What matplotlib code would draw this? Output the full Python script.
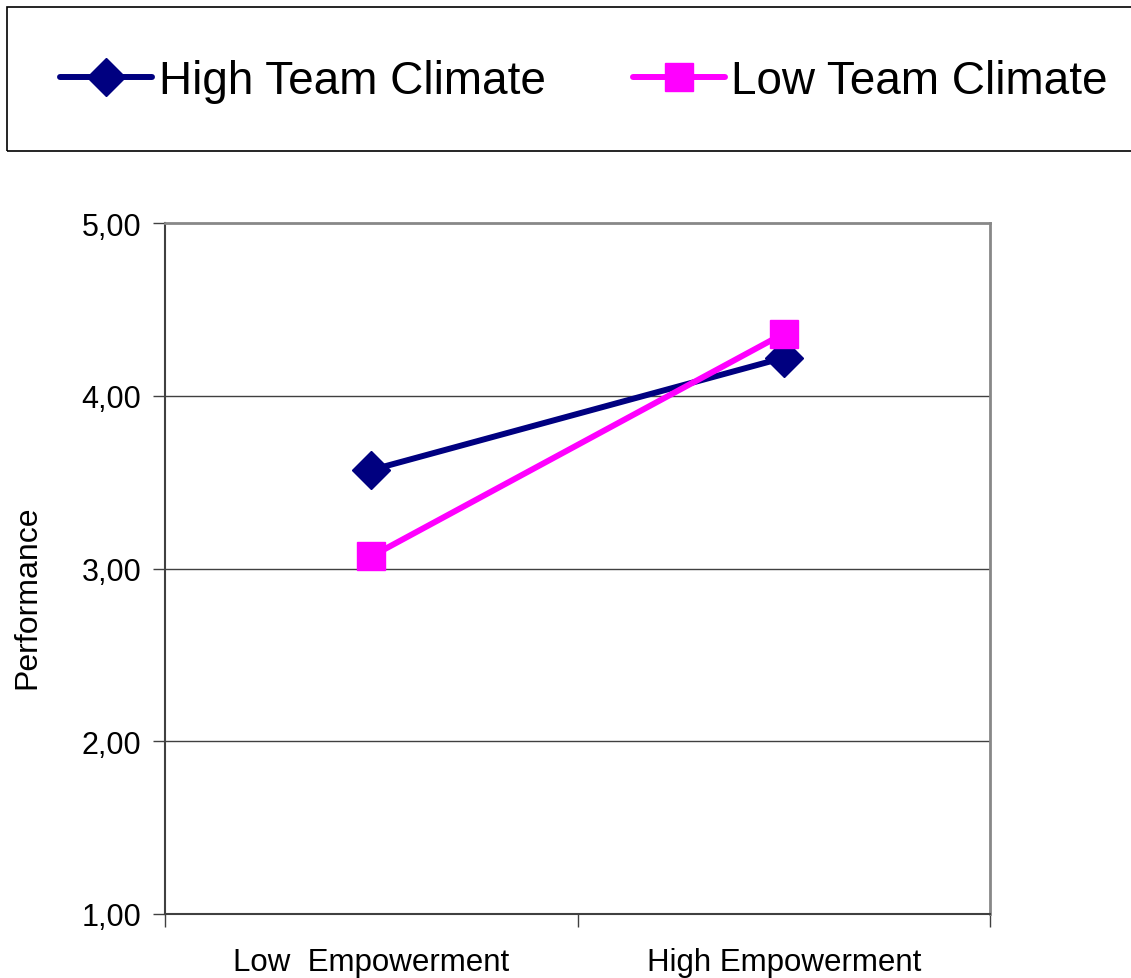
import matplotlib
matplotlib.use("Agg")
import matplotlib.pyplot as plt
from matplotlib import font_manager
from matplotlib.patches import Rectangle

# data
categories = ["Low  Empowerment", "High Empowerment"]
high_team = [3.57, 4.22]
low_team = [3.07, 4.36]
y_ticks = [1, 2, 3, 4, 5]
y_labels = ["1,00", "2,00", "3,00", "4,00", "5,00"]

names = {f.name for f in font_manager.fontManager.ttflist}
fam = "Liberation Sans Narrow" if "Liberation Sans Narrow" in names else "Liberation Sans"
plt.rcParams["font.family"] = [fam, "DejaVu Sans"]

fig = plt.figure(figsize=(11.31, 9.79), dpi=100)
ax = fig.add_axes([165 / 1131, 1 - 915 / 979, 825 / 1131, 691 / 979])

x = [0.5, 1.5]
ax.plot(x, high_team, color="#000080", lw=4.3, marker="D", ms=19,
        label="High Team Climate", solid_capstyle="round")
ax.plot(x, low_team, color="#FF00FF", lw=4.3, marker="s", ms=20,
        label="Low Team Climate", solid_capstyle="round")

ax.set_xlim(0, 2)
ax.set_ylim(1, 5)
ax.set_yticks(y_ticks)
ax.set_yticklabels(y_labels, fontsize=22)
ax.set_xticks([0, 1, 2])
ax.set_xticklabels([])
ax.set_xticks(x, minor=True)
ax.set_xticklabels(categories, minor=True, fontsize=22.5)
ax.tick_params(axis="x", which="minor", length=0, pad=24)
ax.tick_params(axis="x", which="major", length=9, width=1, color="#404040", direction="out")
ax.tick_params(axis="y", length=9, width=1, color="#404040", pad=8)
ax.set_ylabel("Performance", fontsize=23)
ax.yaxis.set_label_coords(-0.149, 0.46)

for v in y_ticks[1:-1]:
    ax.axhline(v, color="#404040", lw=1, zorder=0)
ax.spines["left"].set_color("#404040")
ax.spines["bottom"].set_color("#404040")
ax.spines["left"].set_linewidth(1.5)
ax.spines["bottom"].set_linewidth(1.5)
ax.spines["top"].set_color("#888888")
ax.spines["right"].set_color("#888888")
ax.spines["top"].set_linewidth(2)
ax.spines["right"].set_linewidth(2)

# legend box runs off the right edge
fig.patches.append(Rectangle((7 / 1131, 1 - 152 / 979), 1.2, 144 / 979,
                             transform=fig.transFigure, fill=False,
                             edgecolor="black", lw=1.2))
h, l = ax.get_legend_handles_labels()
fig.legend(h, l, loc="center left", bbox_to_anchor=(42 / 1131, 1 - 82 / 979),
           ncol=2, frameon=False, fontsize=33, handlelength=2.0,
           handletextpad=0.15, columnspacing=1.9, borderaxespad=0)

fig.savefig("out.png", dpi=100)
